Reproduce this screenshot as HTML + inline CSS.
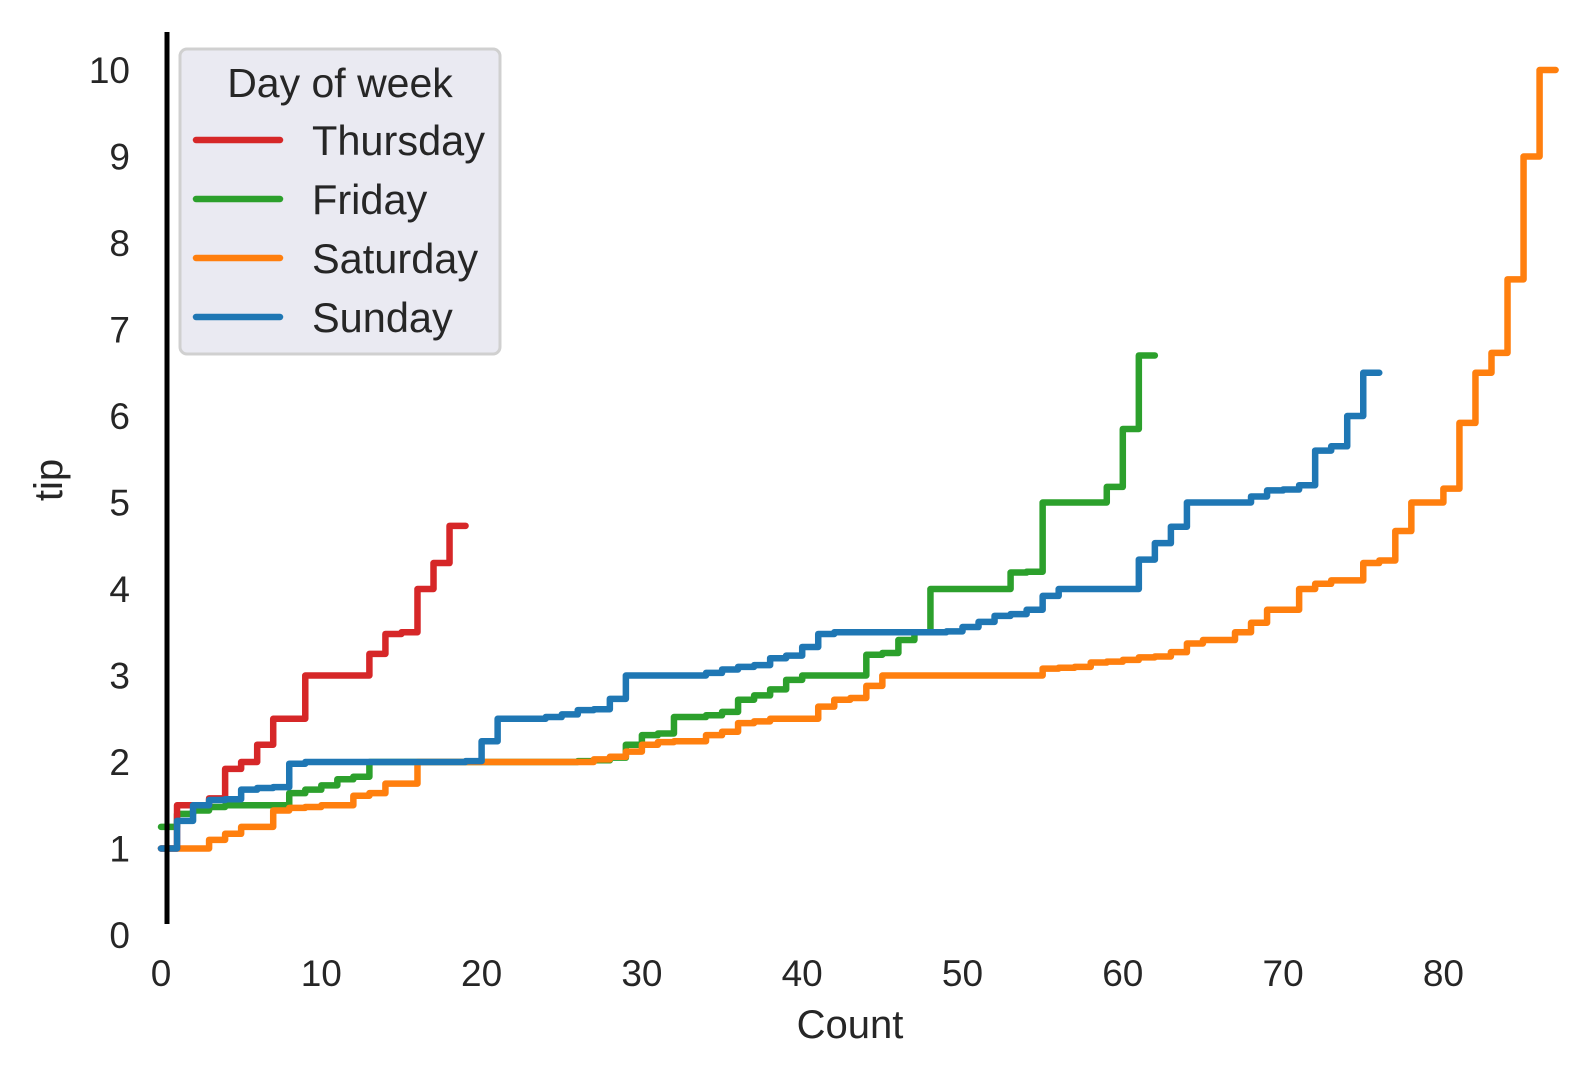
<!DOCTYPE html>
<html><head><meta charset="utf-8"><style>
html,body{margin:0;padding:0;background:#fff;}
svg{display:block;font-family:"Liberation Sans",Arial,sans-serif;}
</style></head><body>
<svg id="chart" width="1585" height="1087" viewBox="0 0 1585 1087" xmlns="http://www.w3.org/2000/svg">
<g id="marks"></g>
<line x1="167" y1="32" x2="167" y2="924" stroke="#000" stroke-width="5"/>
<g id="yticks"></g>
<g id="xticks"></g>
<text x="850" y="1038" font-size="40" fill="#262626" text-anchor="middle">Count</text>
<text transform="translate(62,480) rotate(-90)" font-size="40" fill="#262626" text-anchor="middle">tip</text>
<g>
<rect x="180" y="49" width="320" height="305" rx="7" fill="#eaeaf2" stroke="#d0d0d0" stroke-width="3"/>
<text x="340" y="97" font-size="41" fill="#262626" text-anchor="middle">Day of week</text>
<g><line x1="196" y1="140" x2="280" y2="140" stroke="#d62728" stroke-width="6.5" stroke-linecap="round"/><text x="312" y="155" font-size="41.5" fill="#262626">Thursday</text></g>
<g><line x1="196" y1="199" x2="280" y2="199" stroke="#2ca02c" stroke-width="6.5" stroke-linecap="round"/><text x="312" y="214" font-size="41.5" fill="#262626">Friday</text></g>
<g><line x1="196" y1="258" x2="280" y2="258" stroke="#ff7f0e" stroke-width="6.5" stroke-linecap="round"/><text x="312" y="273" font-size="41.5" fill="#262626">Saturday</text></g>
<g><line x1="196" y1="317" x2="280" y2="317" stroke="#1f77b4" stroke-width="6.5" stroke-linecap="round"/><text x="312" y="332" font-size="41.5" fill="#262626">Sunday</text></g>
</g>
</svg>
<script>
const xTicks = [0,10,20,30,40,50,60,70,80];
const yTicks = [0,1,2,3,4,5,6,7,8,9,10];
const redTips = [1.0,1.5,1.5,1.58,1.92,2.0,2.2,2.5,2.5,3.0,3.0,3.0,3.0,3.25,3.48,3.5,4.0,4.3,4.73];
const greenTips = [1.25,1.4,1.44,1.48,1.5,1.5,1.5,1.5,1.64,1.68,1.73,1.8,1.83,
 2.0,2.0,2.0,2.0,2.0,2.0,2.0,2.0,2.0,2.0,2.0,2.0,2.0,2.01,2.02,2.05,2.2,2.31,2.33,2.52,2.52,2.54,2.58,
 2.72,2.77,2.84,2.95,3.0,3.0,3.0,3.0,3.24,3.26,3.41,3.5,4.0,4.0,4.0,4.0,4.0,4.19,4.2,5.0,5.0,5.0,5.0,5.18,5.85,6.7];
const orangeTips = [1.0,1.0,1.0,1.1,1.17,1.25,1.25,1.44,1.47,1.48,1.5,1.5,1.61,1.64,1.75,1.75,
 2.0,2.0,2.0,2.0,2.0,2.0,2.0,2.0,2.0,2.0,2.0,2.03,2.06,2.12,2.2,2.23,2.24,2.24,2.31,2.35,2.45,2.47,2.5,2.5,2.5,
 2.64,2.72,2.74,2.88,3.0,3.0,3.0,3.0,3.0,3.0,3.0,3.0,3.0,3.0,3.08,3.09,3.1,3.15,3.16,3.18,3.21,3.22,3.27,3.37,3.41,3.41,
 3.5,3.61,3.76,3.76,4.0,4.06,4.1,4.1,4.3,4.33,4.67,5.0,5.0,5.16,5.92,6.5,6.73,7.58,9.0,10.0];
const blueTips = [1.0,1.32,1.5,1.56,1.57,1.68,1.7,1.71,1.98,2.0,2.0,2.0,2.0,2.0,2.0,2.0,2.0,2.0,2.0,2.01,2.24,
 2.5,2.5,2.5,2.52,2.55,2.6,2.61,2.73,3.0,3.0,3.0,3.0,3.0,3.03,3.07,3.1,3.12,3.2,3.23,3.33,3.48,
 3.5,3.5,3.5,3.5,3.5,3.5,3.5,3.51,3.56,3.62,3.69,3.71,3.76,3.92,4.0,4.0,4.0,4.0,4.0,4.34,4.53,4.72,
 5.0,5.0,5.0,5.0,5.07,5.14,5.15,5.2,5.6,5.65,6.0,6.5];

const NS = 'http://www.w3.org/2000/svg';
function xs(c){ return 161 + 16.03 * c; }
function ys(t){ return 935 - 86.5 * t; }

const marks = document.getElementById('marks');
function drawSeries(vals, color, name){
  let d = '';
  vals.forEach((v, i) => {
    d += (i === 0 ? 'M' : 'L') + xs(i).toFixed(2) + ' ' + ys(v).toFixed(2) + ' ';
    d += 'L' + xs(i + 1).toFixed(2) + ' ' + ys(v).toFixed(2) + ' ';
  });
  const p = document.createElementNS(NS, 'path');
  p.setAttribute('d', d);
  p.setAttribute('fill', 'none');
  p.setAttribute('stroke', color);
  p.setAttribute('stroke-width', '6.5');
  p.setAttribute('stroke-linejoin', 'round');
  p.setAttribute('stroke-linecap', 'round');
  
  
  marks.appendChild(p);
}
drawSeries(greenTips, '#2ca02c', 'friday-ecdf-line');
drawSeries(orangeTips, '#ff7f0e', 'saturday-ecdf-line');
drawSeries(redTips, '#d62728', 'thursday-ecdf-line');
drawSeries(blueTips, '#1f77b4', 'sunday-ecdf-line');

const xg = document.getElementById('xticks');
xTicks.forEach(v => {
  const t = document.createElementNS(NS, 'text');
  t.setAttribute('x', xs(v));
  t.setAttribute('y', 986);
  t.setAttribute('font-size', '37');
  t.setAttribute('fill', '#262626');
  t.setAttribute('text-anchor', 'middle');
  t.textContent = v;
  
  
  xg.appendChild(t);
});
const yg = document.getElementById('yticks');
yTicks.forEach(v => {
  const t = document.createElementNS(NS, 'text');
  t.setAttribute('x', 130);
  t.setAttribute('y', ys(v) + 13);
  t.setAttribute('font-size', '37');
  t.setAttribute('fill', '#262626');
  t.setAttribute('text-anchor', 'end');
  t.textContent = v;
  
  
  yg.appendChild(t);
});
</script>
</body></html>
